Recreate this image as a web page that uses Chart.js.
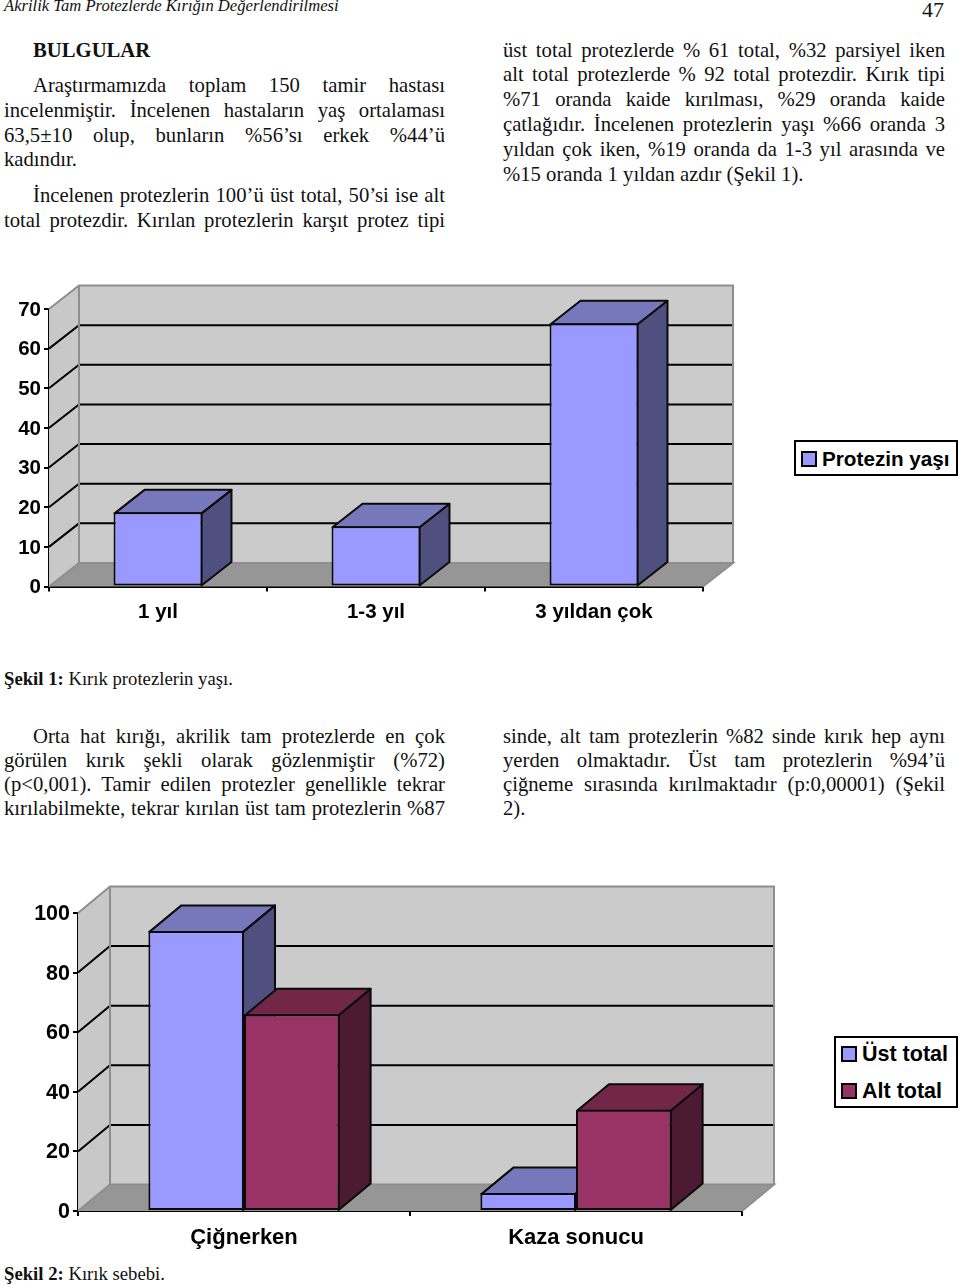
<!DOCTYPE html>
<html lang="tr">
<head>
    <meta charset="UTF-8">
    <title>Akrilik Tam Protezlerde Kırığın Değerlendirilmesi</title>
    <style>
        html, body { margin: 0; padding: 0; background: #fff; }
        body { position: relative; width: 960px; height: 1287px; overflow: hidden; font-family: "Liberation Serif", serif; font-size: 20.7px; color: #111; }
        .l { position: absolute; line-height: 24px; height: 24px; margin-top: -1px; white-space: normal; text-align: justify; text-align-last: justify; }
        .a { left: 4px; width: 441px; }
        .i { left: 33px; width: 412px; }
        .b { left: 503px; width: 442px; }
        .n { text-align-last: left; white-space: nowrap; }
        canvas { position: absolute; left: 0; }
        .legend { position: absolute; box-sizing: border-box; border: 2px solid #000; background: #fff; font: bold 21.5px "Liberation Sans", sans-serif; color: #000; }
        .legend div { position: absolute; left: 26px; line-height: 24px; white-space: nowrap; }
        .legend span { position: absolute; left: -21px; top: 4px; width: 16px; height: 16px; box-sizing: border-box; border: 2px solid #000; }
    </style>
</head>
<body>
    <div class="l n" style="left:4px;top:-5px;font-style:italic;font-size:16.6px">Akrilik Tam Protezlerde Kırığın Değerlendirilmesi</div>
    <div class="l n" style="left:922px;top:-1px;font-size:22px">47</div>

    <div class="l n" style="left:33px;top:39px"><b>BULGULAR</b></div>
    <div class="l i" style="top:74px">Araştırmamızda toplam 150 tamir hastası</div>
    <div class="l a" style="top:99px">incelenmiştir. İncelenen hastaların yaş ortalaması</div>
    <div class="l a" style="top:124px">63,5±10 olup, bunların %56’sı erkek %44’ü</div>
    <div class="l a n" style="top:148px">kadındır.</div>
    <div class="l i" style="top:184px">İncelenen protezlerin 100’ü üst total, 50’si ise alt</div>
    <div class="l a" style="top:209px">total protezdir. Kırılan protezlerin karşıt protez tipi</div>

    <div class="l b" style="top:39px">üst total protezlerde % 61 total, %32 parsiyel iken</div>
    <div class="l b" style="top:63px">alt total protezlerde % 92 total protezdir. Kırık tipi</div>
    <div class="l b" style="top:88px">%71 oranda kaide kırılması, %29 oranda kaide</div>
    <div class="l b" style="top:113px">çatlağıdır. İncelenen protezlerin yaşı %66 oranda 3</div>
    <div class="l b" style="top:138px">yıldan çok iken, %19 oranda da 1-3 yıl arasında ve</div>
    <div class="l b n" style="top:163px">%15 oranda 1 yıldan azdır (Şekil 1).</div>

    <div class="l n" style="left:4px;top:668px;font-size:18.7px"><b>Şekil 1:</b> Kırık protezlerin yaşı.</div>

    <div class="l i" style="top:725px">Orta hat kırığı, akrilik tam protezlerde en çok</div>
    <div class="l a" style="top:749px">görülen kırık şekli olarak gözlenmiştir (%72)</div>
    <div class="l a" style="top:773px">(p&lt;0,001). Tamir edilen protezler genellikle tekrar</div>
    <div class="l a" style="top:797px">kırılabilmekte, tekrar kırılan üst tam protezlerin %87</div>

    <div class="l b" style="top:725px">sinde, alt tam protezlerin %82 sinde kırık hep aynı</div>
    <div class="l b" style="top:749px">yerden olmaktadır. Üst tam protezlerin %94’ü</div>
    <div class="l b" style="top:773px">çiğneme sırasında kırılmaktadır (p:0,00001) (Şekil</div>
    <div class="l b n" style="top:797px">2).</div>

    <div class="l n" style="left:4px;top:1263px;font-size:18.7px"><b>Şekil 2:</b> Kırık sebebi.</div>

    <canvas id="chart1" width="960" height="370" style="top:270px"></canvas>
    <canvas id="chart2" width="960" height="385" style="top:870px"></canvas>

    <div class="legend" id="legend1" style="left:794px;top:440px;width:164px;height:36px;font-size:20.7px"></div>
    <div class="legend" id="legend2" style="left:834px;top:1036px;width:124px;height:72px"></div>

    <script src="https://cdn.jsdelivr.net/npm/chart.js"></script>

    <script>
        // Chart 1 data
        const ageCategories = ['1 yıl', '1-3 yıl', '3 yıldan çok'];
        const ageValues = [18.7, 15.2, 66.4];
        const ageTicks = [0, 10, 20, 30, 40, 50, 60, 70];
        const ageSeriesName = 'Protezin yaşı';

        // Chart 2 data
        const causeCategories = ['Çiğnerken', 'Kaza sonucu'];
        const upperValues = [94, 6];
        const lowerValues = [66, 34];
        const causeTicks = [0, 20, 40, 60, 80, 100];
        const upperName = 'Üst total';
        const lowerName = 'Alt total';

        const blue = { front: '#9999ff', top: '#7777bb', side: '#505080' };
        const wine = { front: '#993366', top: '#722648', side: '#4d1a33' };

        function poly(c, pts, fill, stroke, width) {
            c.beginPath();
            pts.forEach((p, i) => i ? c.lineTo(p[0], p[1]) : c.moveTo(p[0], p[1]));
            c.closePath();
            if (fill) { c.fillStyle = fill; c.fill(); }
            if (stroke) { c.strokeStyle = stroke; c.lineWidth = width; c.lineJoin = 'round'; c.stroke(); }
        }

        // draws walls, floor, grid and the depth faces of the bars, Chart.js draws the front faces after
        const box3d = {
            id: 'box3d',
            beforeDatasetsDraw(chart, args, opts) {
                const c = chart.ctx;
                const a = chart.chartArea;
                const y = chart.scales.y;
                const dx = opts.dx, dy = opts.dy;
                const b = a.bottom, t = a.top, l = a.left, r = a.right;

                c.save();
                poly(c, [[l, t], [l + dx, t - dy], [l + dx, b - dy], [l, b]], '#c8c8c8');
                poly(c, [[l + dx, t - dy], [r + dx, t - dy], [r + dx, b - dy], [l + dx, b - dy]], '#cbcbcb');
                poly(c, [[l, b], [l + dx, b - dy], [r + dx, b - dy], [r, b]], '#969696');

                y.ticks.forEach(tick => {
                    if (tick.value === y.min || tick.value === y.max) return;
                    const py = y.getPixelForValue(tick.value);
                    c.beginPath();
                    c.moveTo(l, py);
                    c.lineTo(l + dx, py - dy);
                    c.lineTo(r + dx - 1, py - dy);
                    c.strokeStyle = '#000';
                    c.lineWidth = 2;
                    c.stroke();
                });

                // grey edges of the box
                c.beginPath();
                c.moveTo(l, t);
                c.lineTo(l + dx, t - dy);
                c.lineTo(r + dx, t - dy);
                c.lineTo(r + dx, b - dy);
                c.moveTo(l + dx, t - dy);
                c.lineTo(l + dx, b - dy);
                c.lineTo(r + dx, b - dy);
                c.lineTo(r, b);
                c.moveTo(l, b);
                c.lineTo(l + dx, b - dy);
                c.strokeStyle = '#8e8e8e';
                c.lineWidth = 2;
                c.stroke();

                // the bar border sits inside the element box, so the faces start 1px in
                chart.data.datasets.forEach((ds, i) => {
                    chart.getDatasetMeta(i).data.forEach(bar => {
                        const p = bar.getProps(['x', 'y', 'base', 'width'], true);
                        const bl = p.x - p.width / 2 + 1, br = p.x + p.width / 2 - 1, top = p.y + 1;
                        poly(c, [[br, top], [br + dx, top - dy], [br + dx, p.base - dy], [br, p.base]], ds.sideColor, '#0a0a0a', 2);
                        poly(c, [[bl, top], [br, top], [br + dx, top - dy], [bl + dx, top - dy]], ds.topColor, '#0a0a0a', 2);
                    });
                });
                c.restore();
            }
        };

        function dataset(name, values, color) {
            return {
                label: name,
                data: values,
                backgroundColor: color.front,
                topColor: color.top,
                sideColor: color.side,
                borderColor: '#0a0a0a',
                borderWidth: 2,
                borderSkipped: false
            };
        }

        function makeChart(id, categories, datasets, ticks, cfg) {
            new Chart(document.getElementById(id), {
                type: 'bar',
                data: { labels: categories, datasets: datasets },
                plugins: [box3d],
                options: {
                    responsive: false,
                    animation: false,
                    categoryPercentage: cfg.catPct,
                    barPercentage: 1,
                    layout: { padding: { top: cfg.top, right: cfg.right, bottom: 0, left: 0 } },
                    plugins: {
                        legend: { display: false },
                        tooltip: { enabled: false },
                        box3d: { dx: cfg.dx, dy: cfg.dy }
                    },
                    scales: {
                        x: {
                            grid: { drawOnChartArea: false, drawTicks: true, tickLength: 5, color: '#000', lineWidth: 2 },
                            border: { color: '#000', width: 2 },
                            ticks: { color: '#000', padding: cfg.xPad, maxRotation: 0, font: { family: 'Liberation Sans', weight: 'bold', size: cfg.xFont } },
                            // tick labels get clipped to the scale box, keep it tall enough for descenders
                            afterFit: s => { s.height = cfg.xHeight; }
                        },
                        y: {
                            min: ticks[0],
                            max: ticks[ticks.length - 1],
                            afterBuildTicks: s => { s.ticks = ticks.map(v => ({ value: v })); },
                            grid: { drawOnChartArea: false, drawTicks: true, tickLength: 5, color: '#000', lineWidth: 2 },
                            border: { color: '#000', width: 2 },
                            ticks: { color: '#000', padding: 3, labelOffset: 1, font: { family: 'Liberation Sans', weight: 'bold', size: cfg.yFont } },
                            afterFit: s => { s.width = cfg.yWidth; }
                        }
                    }
                }
            });
        }

        function makeLegend(id, items) {
            const box = document.getElementById(id);
            items.forEach((item, i) => {
                const row = document.createElement('div');
                row.style.top = (items.length > 1 ? 4 + i * 36.5 : 5) + 'px';
                row.textContent = item.name;
                const swatch = document.createElement('span');
                swatch.style.background = item.color;
                row.appendChild(swatch);
                box.appendChild(row);
            });
        }

        makeChart('chart1', ageCategories, [dataset(ageSeriesName, ageValues, blue)], ageTicks, {
            catPct: 0.408, top: 39, right: 257, dx: 30, dy: 23.5, xFont: 20.5, yFont: 20.5, xPad: 9, xHeight: 53.5, yWidth: 49
        });

        makeChart('chart2', causeCategories, [dataset(upperName, upperValues, blue), dataset(lowerName, lowerValues, wine)], causeTicks, {
            catPct: 0.576, top: 43, right: 218, dx: 32, dy: 26.5, xFont: 22, yFont: 21.5, xPad: 9, xHeight: 44, yWidth: 78
        });

        makeLegend('legend1', [{ name: ageSeriesName, color: blue.front }]);
        makeLegend('legend2', [{ name: upperName, color: blue.front }, { name: lowerName, color: wine.front }]);
    </script>
</body>
</html>
